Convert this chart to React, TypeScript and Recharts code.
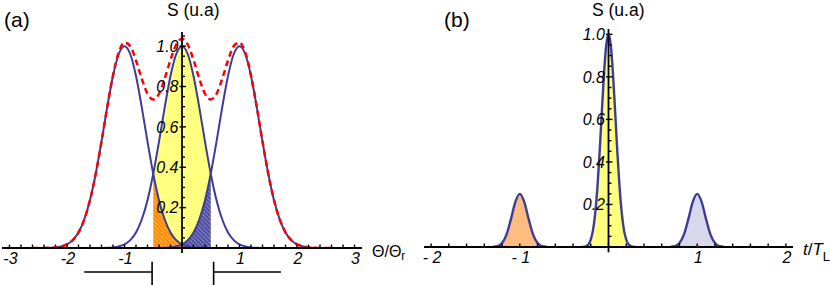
import React from 'react';
import { ComposedChart, Line, Area, XAxis, YAxis, ReferenceLine } from 'recharts';

// ---------- Panel (a) data : S versus Θ/Θn ----------
const thetaCenter = [-1.5, -1.4, -1.3, -1.2, -1.1, -1, -0.9, -0.8, -0.7, -0.6, -0.5, -0.4, -0.3, -0.2, -0.1, 0, 0.1, 0.2, 0.3, 0.4, 0.5, 0.6, 0.7, 0.8, 0.9, 1, 1.1, 1.2, 1.3, 1.4, 1.5];
const centerPeakA = [0, 0, 0.001, 0.003, 0.008, 0.018, 0.039, 0.077, 0.141, 0.237, 0.368, 0.527, 0.698, 0.852, 0.961, 1, 0.961, 0.852, 0.698, 0.527, 0.368, 0.237, 0.141, 0.077, 0.039, 0.018, 0.008, 0.003, 0.001, 0, 0];
const thetaLeft = [-2.5, -2.4, -2.3, -2.2, -2.1, -2, -1.9, -1.8, -1.7, -1.6, -1.5, -1.4, -1.3, -1.2, -1.1, -1, -0.9, -0.8, -0.7, -0.6, -0.5, -0.4, -0.3, -0.2, -0.1, 0, 0.1, 0.2, 0.3, 0.4, 0.5];
const leftPeakA = [0, 0, 0.001, 0.003, 0.008, 0.018, 0.039, 0.077, 0.141, 0.237, 0.368, 0.527, 0.698, 0.852, 0.961, 1, 0.961, 0.852, 0.698, 0.527, 0.368, 0.237, 0.141, 0.077, 0.039, 0.018, 0.008, 0.003, 0.001, 0, 0];
const thetaRight = [-0.5, -0.4, -0.3, -0.2, -0.1, 0, 0.1, 0.2, 0.3, 0.4, 0.5, 0.6, 0.7, 0.8, 0.9, 1, 1.1, 1.2, 1.3, 1.4, 1.5, 1.6, 1.7, 1.8, 1.9, 2, 2.1, 2.2, 2.3, 2.4, 2.5];
const rightPeakA = [0, 0, 0.001, 0.003, 0.008, 0.018, 0.039, 0.077, 0.141, 0.237, 0.368, 0.527, 0.698, 0.852, 0.961, 1, 0.961, 0.852, 0.698, 0.527, 0.368, 0.237, 0.141, 0.077, 0.039, 0.018, 0.008, 0.003, 0.001, 0, 0];
const thetaTotal = [-2.6, -2.5, -2.4, -2.3, -2.2, -2.1, -2, -1.9, -1.8, -1.7, -1.6, -1.5, -1.4, -1.3, -1.2, -1.1, -1, -0.9, -0.8, -0.7, -0.6, -0.5, -0.4, -0.3, -0.2, -0.1, 0, 0.1, 0.2, 0.3, 0.4, 0.5, 0.6, 0.7, 0.8, 0.9, 1, 1.1, 1.2, 1.3, 1.4, 1.5, 1.6, 1.7, 1.8, 1.9, 2, 2.1, 2.2, 2.3, 2.4, 2.5, 2.6];
const totalA = [0, 0, 0, 0.001, 0.003, 0.008, 0.018, 0.039, 0.077, 0.141, 0.237, 0.368, 0.527, 0.699, 0.855, 0.969, 1.018, 1.0, 0.929, 0.839, 0.764, 0.736, 0.764, 0.84, 0.932, 1.008, 1.036, 1.008, 0.932, 0.84, 0.764, 0.736, 0.764, 0.839, 0.929, 1.0, 1.018, 0.969, 0.855, 0.699, 0.527, 0.368, 0.237, 0.141, 0.077, 0.039, 0.018, 0.008, 0.003, 0.001, 0, 0, 0];
const thetaYellow = [-0.5, -0.4, -0.3, -0.2, -0.1, 0, 0.1, 0.2, 0.3, 0.4, 0.5];
const yellowA = [0.368, 0.527, 0.698, 0.852, 0.961, 1, 0.961, 0.852, 0.698, 0.527, 0.368];
const thetaOrange = [-0.5, -0.4, -0.3, -0.2, -0.1, 0];
const orangeA = [0.368, 0.237, 0.141, 0.077, 0.039, 0.018];
const thetaBlue = [0, 0.1, 0.2, 0.3, 0.4, 0.5];
const blueA = [0.018, 0.039, 0.077, 0.141, 0.237, 0.368];
const xMajorA = [-3, -2, -1, 1, 2, 3];
const xLabelsA = ['-3', '-2', '-1', '1', '2', '3'];
const bracketLeftA = [-1.7, -0.52];
const bracketRightA = [0.55, 1.72];

// ---------- Panel (b) data : S versus t/T_L ----------
const tSideLeft = [-1.3, -1.25, -1.2, -1.15, -1.1, -1.05, -1, -0.95, -0.9, -0.85, -0.8, -0.75, -0.7];
const sideLeftB = [0.001, 0.004, 0.019, 0.058, 0.131, 0.212, 0.25, 0.212, 0.131, 0.058, 0.019, 0.004, 0.001];
const tMain = [-0.3, -0.275, -0.25, -0.225, -0.2, -0.175, -0.15, -0.125, -0.1, -0.075, -0.05, -0.025, 0, 0.025, 0.05, 0.075, 0.1, 0.125, 0.15, 0.175, 0.2, 0.225, 0.25, 0.275, 0.3];
const mainB = [0, 0.001, 0.005, 0.013, 0.035, 0.078, 0.158, 0.28, 0.445, 0.636, 0.818, 0.951, 1, 0.951, 0.818, 0.636, 0.445, 0.28, 0.158, 0.078, 0.035, 0.013, 0.005, 0.001, 0];
const tSideRight = [0.7, 0.75, 0.8, 0.85, 0.9, 0.95, 1, 1.05, 1.1, 1.15, 1.2, 1.25, 1.3];
const sideRightB = [0.001, 0.004, 0.019, 0.058, 0.131, 0.212, 0.25, 0.212, 0.131, 0.058, 0.019, 0.004, 0.001];
const xMajorB = [-2, -1, 1, 2];
const xLabelsB = ['- 2', '- 1', '1', '2'];

const yMajor = [0.2, 0.4, 0.6, 0.8, 1.0];
const yLabels = ['0.2', '0.4', '0.6', '0.8', '1.0'];

const range = (a: number, b: number, s: number) => {
  const out: number[] = [];
  const n = Math.round((b - a) / s);
  for (let i = 0; i <= n; i++) out.push(Math.round((a + i * s) * 1000) / 1000);
  return out;
};

const pts = (xs: number[], ys: number[]) => xs.map((x, i) => ({ x, y: ys[i] }));

const NAVY = '#3d3d99';
const NUM_FONT = '"Liberation Sans", Arial, sans-serif';

const XTick = (props: any) => {
  const { x, y, payload, majors, labels } = props;
  const v = Math.round(payload.value * 1000) / 1000;
  const idx = majors.indexOf(v);
  return (
    <g>
      <line x1={x} y1={y} x2={x} y2={y - 3.5} stroke="#000" strokeWidth={1.4} />
      {idx >= 0 && (
        <text x={x + 1} y={y + 16} textAnchor="middle" fontFamily={NUM_FONT} fontStyle="italic" fontSize={16} fill="#000">
          {labels[idx]}
        </text>
      )}
    </g>
  );
};

const yAxisParts = (top: number, minorMax: number, pxPerUnit: number, keyp: string) => {
  const els: any[] = [];
  els.push(
    <ReferenceLine key={keyp + 'axis'} segment={[{ x: 0, y: -0.025 }, { x: 0, y: top }]} stroke="#000" strokeWidth={1.8} ifOverflow="visible" />
  );
  range(0.05, minorMax, 0.05).forEach((v) => {
    if (yMajor.some((m) => Math.abs(m - v) < 1e-6)) return;
    els.push(
      <ReferenceLine key={keyp + 'mi' + v} segment={[{ x: 0, y: v }, { x: 3 / pxPerUnit, y: v }]} stroke="#000" strokeWidth={1.4} ifOverflow="visible" />
    );
  });
  yMajor.forEach((v, i) => {
    els.push(
      <ReferenceLine
        key={keyp + 'ma' + v}
        segment={[{ x: -2.5 / pxPerUnit, y: v }, { x: 4 / pxPerUnit, y: v }]}
        stroke="#000"
        strokeWidth={1.4}
        ifOverflow="visible"
        label={{ value: yLabels[i], position: 'left', offset: 1, fontSize: 16, fontStyle: 'italic', fill: '#000', fontFamily: NUM_FONT }}
      />
    );
  });
  return els;
};

const PanelA = () => (
  <ComposedChart width={415} height={285} margin={{ top: 32, right: 53, bottom: 7, left: 2 }}>
    <defs>
      <pattern id="hatchOrange" patternUnits="userSpaceOnUse" width="3" height="3" patternTransform="rotate(-45)">
        <rect width="3" height="3" fill="#ff8a00" />
        <line x1="0.5" y1="0" x2="0.5" y2="3" stroke="#ffb24d" strokeWidth="1.1" />
      </pattern>
      <pattern id="hatchBlue" patternUnits="userSpaceOnUse" width="3" height="3" patternTransform="rotate(-45)">
        <rect width="3" height="3" fill="#4c4ca0" />
        <line x1="0.5" y1="0" x2="0.5" y2="3" stroke="#8585c2" strokeWidth="1.1" />
      </pattern>
    </defs>
    <YAxis type="number" hide domain={[0, 1.07]} allowDataOverflow />
    <Area data={pts(thetaYellow, yellowA)} dataKey="y" type="monotone" fill="#ffff80" fillOpacity={1} stroke="none" isAnimationActive={false} />
    <Area data={pts(thetaOrange, orangeA)} dataKey="y" type="monotone" fill="url(#hatchOrange)" fillOpacity={1} stroke="none" isAnimationActive={false} />
    <Area data={pts(thetaBlue, blueA)} dataKey="y" type="monotone" fill="url(#hatchBlue)" fillOpacity={1} stroke="none" isAnimationActive={false} />
    <Line data={pts(thetaLeft, leftPeakA)} dataKey="y" type="monotone" stroke={NAVY} strokeWidth={2} dot={false} activeDot={false} isAnimationActive={false} />
    <Line data={pts(thetaCenter, centerPeakA)} dataKey="y" type="monotone" stroke={NAVY} strokeWidth={2} dot={false} activeDot={false} isAnimationActive={false} />
    <Line data={pts(thetaRight, rightPeakA)} dataKey="y" type="monotone" stroke={NAVY} strokeWidth={2} dot={false} activeDot={false} isAnimationActive={false} />
    <Line data={pts(thetaTotal, totalA)} dataKey="y" type="monotone" stroke="#ff0000" strokeWidth={2.5} strokeDasharray="6 4" dot={false} activeDot={false} isAnimationActive={false} />
    <XAxis
      type="number"
      dataKey="x"
      domain={[-3.13, 3.13]}
      allowDataOverflow
      ticks={range(-3, 3, 0.2)}
      interval={0}
      tickLine={false}
      tickSize={0}
      tickMargin={0}
      height={30}
      axisLine={{ stroke: '#000', strokeWidth: 1.8 }}
      tick={(p: any) => <XTick {...p} majors={xMajorA} labels={xLabelsA} />}
    />
    {yAxisParts(1.07, 1.05, 57.5, 'a')}
    <ReferenceLine segment={[{ x: bracketLeftA[0], y: -0.119 }, { x: bracketLeftA[1], y: -0.119 }]} stroke="#000" strokeWidth={1.6} ifOverflow="visible" />
    <ReferenceLine segment={[{ x: bracketLeftA[1], y: -0.068 }, { x: bracketLeftA[1], y: -0.2 }]} stroke="#000" strokeWidth={1.6} ifOverflow="visible" />
    <ReferenceLine segment={[{ x: bracketRightA[0], y: -0.119 }, { x: bracketRightA[1], y: -0.119 }]} stroke="#000" strokeWidth={1.6} ifOverflow="visible" />
    <ReferenceLine segment={[{ x: bracketRightA[0], y: -0.068 }, { x: bracketRightA[0], y: -0.2 }]} stroke="#000" strokeWidth={1.6} ifOverflow="visible" />
  </ComposedChart>
);

const PanelB = () => (
  <ComposedChart width={415} height={285} margin={{ top: 29, right: 37, bottom: 8, left: 9 }}>
    <YAxis type="number" hide domain={[0, 1.025]} allowDataOverflow />
    <Area data={pts(tSideLeft, sideLeftB)} dataKey="y" type="monotone" fill="#fdbd80" fillOpacity={1} stroke={NAVY} strokeWidth={2.4} isAnimationActive={false} />
    <Area data={pts(tMain, mainB)} dataKey="y" type="monotone" fill="#ffff80" fillOpacity={1} stroke={NAVY} strokeWidth={2.4} isAnimationActive={false} />
    <Area data={pts(tSideRight, sideRightB)} dataKey="y" type="monotone" fill="#d8d8ec" fillOpacity={1} stroke={NAVY} strokeWidth={2.4} isAnimationActive={false} />
    <XAxis
      type="number"
      dataKey="x"
      domain={[-2.08, 2.08]}
      allowDataOverflow
      ticks={range(-2, 2, 0.2)}
      interval={0}
      tickLine={false}
      tickSize={0}
      tickMargin={0}
      height={30}
      axisLine={{ stroke: '#000', strokeWidth: 1.8 }}
      tick={(p: any) => <XTick {...p} majors={xMajorB} labels={xLabelsB} />}
    />
    {yAxisParts(1.025, 1.0, 88.6, 'b')}
  </ComposedChart>
);

export default function App() {
  const title = { fontFamily: '"Liberation Sans", Arial, sans-serif', fill: '#000' } as const;
  return (
    <div style={{ position: 'absolute', left: 0, top: 0, width: 830, height: 285, background: '#fff', overflow: 'hidden' }}>
      <div style={{ position: 'absolute', left: 0, top: 0, width: 405, height: 285, overflow: 'hidden' }}>
        <PanelA />
      </div>
      <div style={{ position: 'absolute', left: 415, top: 0, width: 415, height: 285 }}>
        <PanelB />
      </div>
      <svg width={830} height={285} style={{ position: 'absolute', left: 0, top: 0, pointerEvents: 'none' }}>
        <defs>
          <clipPath id="clipA">
            <rect x={0} y={0} width={405} height={285} />
          </clipPath>
        </defs>
        <text x={4} y={27} fontSize={21} {...title}>(a)</text>
        <text x={167} y={15.5} fontSize={17.5} {...title}>S (u.a)</text>
        <text x={372} y={256.5} fontSize={16} {...title} clipPath="url(#clipA)">
          Θ/Θ<tspan fontSize={12} dy={3}>n</tspan>
        </text>
        <text x={444} y={27} fontSize={21} {...title}>(b)</text>
        <text x={592} y={15.5} fontSize={17.5} {...title}>S (u.a)</text>
        <text x={803} y={255} fontSize={17} {...title}>
          <tspan fontStyle="italic">t</tspan>
          <tspan>/</tspan>
          <tspan fontStyle="italic">T</tspan>
          <tspan fontSize={13} dy={6}>L</tspan>
        </text>
      </svg>
    </div>
  );
}
